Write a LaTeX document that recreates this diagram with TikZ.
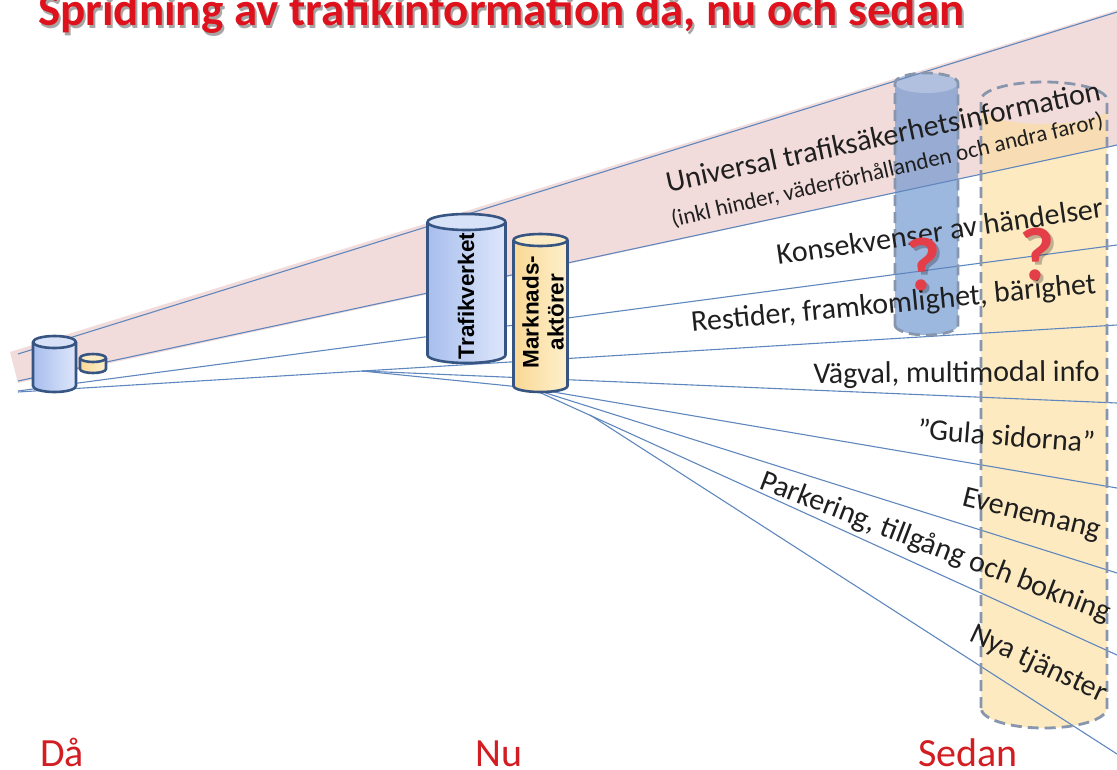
\documentclass[tikz,border=0pt]{standalone}
\usepackage{fontspec}
\setmainfont{Carlito}
\newfontfamily\arialfont{Liberation Sans}
\definecolor{pinkband}{RGB}{242,220,219}
\definecolor{fanline}{RGB}{95,135,190}
\definecolor{cylout}{RGB}{55,85,130}
\definecolor{bluecylL}{RGB}{168,190,238}
\definecolor{bluecylR}{RGB}{222,230,250}
\definecolor{bluetop}{RGB}{215,225,248}
\definecolor{yelL}{RGB}{250,216,148}
\definecolor{yelR}{RGB}{253,240,205}
\definecolor{yeltop}{RGB}{253,236,195}
\definecolor{dashgrey}{RGB}{135,150,172}
\definecolor{ghostblue}{RGB}{110,150,208}
\definecolor{ghostyel}{RGB}{252,221,155}
\definecolor{titlered}{RGB}{222,18,28}
\definecolor{labelred}{RGB}{210,30,35}
\definecolor{qred}{RGB}{228,62,72}
\newcommand\solidcyl[8]{%
  \path[left color=#6, right color=#7] ({#1-#2},#3) -- ({#1-#2},#4) arc[start angle=180,end angle=0,x radius=#2,y radius=#5] -- ({#1+#2},#3) -- cycle;
  \draw[cylline] ({#1-#2},#3) -- ({#1-#2},#4) arc[start angle=180,end angle=0,x radius=#2,y radius=#5] -- ({#1+#2},#3);
  \draw[cylline, fill=#8] (#1,#3) ellipse[x radius=#2, y radius=#5];
}
\begin{document}
\begin{tikzpicture}[x=1pt,y=-1pt,
  fan/.style={draw=fanline, line width=1.1pt},
  cylline/.style={draw=cylout, line width=2.6pt, line join=round},
  ghost/.style={draw=dashgrey, line width=2.8pt, dash pattern=on 11pt off 6pt},
  lbl/.style={inner sep=0pt, font=\fontsize{30}{36}\selectfont, text=black!88},
  cyltext/.style={inner sep=0pt, rotate=90, align=center, font=\arialfont\bfseries\fontsize{22.5}{25}\selectfont},
  timelbl/.style={inner sep=0pt, anchor=base west, text=labelred, font=\fontsize{40}{44}\selectfont},
  qmark/.style={inner sep=0pt, anchor=base, text=qred, font=\bfseries\fontsize{76}{76}\selectfont},
  titlefont/.style={inner sep=0pt, anchor=base west, font=\bfseries\fontsize{47}{50}\selectfont}]
\useasboundingbox (0,0) rectangle (1117,769);
\clip (0,0) rectangle (1117,769);

% pink band
\fill[pinkband] (10,352) -- (1117,10) -- (1117,145) -- (18,383) -- cycle;

% translucent future cylinders (fills)
\fill[ghostblue, fill opacity=0.68] (895,325) -- (895,83) arc[start angle=180,end angle=360,x radius=31.5,y radius=10] -- (958,325) arc[start angle=0,end angle=180,x radius=31.5,y radius=10] -- cycle;
\fill[white, fill opacity=0.25] (926.5,83) ellipse[x radius=31.5, y radius=10];
\fill[ghostyel, fill opacity=0.62] (981,708) -- (981,108) arc[start angle=180,end angle=0,x radius=63,y radius=16] -- (1107,708) arc[start angle=0,end angle=180,x radius=63,y radius=20] -- cycle;

% fan coordinates
\coordinate (L1) at (18,354);  \coordinate (R1) at (1117,12);
\coordinate (L2) at (18,381);  \coordinate (R2) at (1117,145);
\coordinate (LA) at (18,391);  \coordinate (RA) at (1117,245);
\coordinate (LB) at (18,392);  \coordinate (RB) at (1117,325);
\coordinate (P) at (362,371);  \coordinate (K) at (530,388);
\coordinate (RC) at (1117,403); \coordinate (RD) at (1117,488);
\coordinate (RE) at (1117,573); \coordinate (RF) at (1117,655);
\coordinate (G0) at (590,415); \coordinate (RG) at (1117,754);

\draw[fan] (L1) -- (R1);
\draw[fan] (L2) -- (R2);
\draw[fan] (LA) -- (RA);
\draw[fan] (LB) -- (RB);
\draw[fan] (P) -- (RC);
\draw[fan] (P) -- (K);
\draw[fan] (K) -- (RD);
\draw[fan] (K) -- (RE);
\draw[fan] (K) -- (RF);
\draw[fan] (G0) -- (RG);

% solid cylinders
\solidcyl{54.5}{21.5}{342}{386}{6}{bluecylL}{bluecylR}{bluetop}
\solidcyl{93}{13}{358}{369}{4}{yelL}{yelR}{yeltop}
\solidcyl{466.5}{39}{222}{355}{8}{bluecylL}{bluecylR}{bluetop}
\solidcyl{540.5}{27}{240}{386}{6}{yelL}{yelR}{yeltop}
\node[cyltext] (trv) at (466,296) {Trafikverket};
\node[cyltext] (mkt) at (543,312) {Marknads-\\aktörer};

% dashed outlines of future cylinders
\draw[ghost] (895,325) -- (895,83) arc[start angle=180,end angle=360,x radius=31.5,y radius=10] -- (958,325) arc[start angle=0,end angle=180,x radius=31.5,y radius=10] -- cycle;
\draw[ghost] (981,708) -- (981,100) arc[start angle=180,end angle=360,x radius=63,y radius=18] -- (1107,708) arc[start angle=0,end angle=180,x radius=63,y radius=20] -- cycle;

% labels along the fan
\node[lbl, anchor=base east, rotate=12] (t1) at (1102,100) {Universal trafiksäkerhetsinformation};
\node[lbl, anchor=base west, rotate=13, font=\fontsize{23}{26}\selectfont] (t2) at (673,227) {(inkl hinder, väderförhållanden och andra faror)};
\node[lbl, anchor=base west, rotate=8.3] (t3) at (778,265) {Konsekvenser av händelser};
\node[lbl, anchor=base west, rotate=5.5] (t4) at (692,332) {Restider, framkomlighet, bärighet};
\node[lbl, anchor=base east, rotate=0.5] (t5) at (1100,381) {Vägval, multimodal info};
\node[lbl, anchor=base west, rotate=-4.5] (t6) at (917,439) {”Gula sidorna”};
\node[lbl, anchor=base west, rotate=-14] (t7) at (961,505) {Evenemang};
\node[lbl, anchor=base west, rotate=-21] (t8) at (758,488) {Parkering, tillgång och bokning};
\node[lbl, anchor=base west, rotate=-25] (t9) at (968,640) {Nya tjänster};

% question marks
\node[qmark, text=black, opacity=0.25] at (926,293) {?};
\node[qmark] (q1) at (923,290) {?};
\node[qmark, text=black, opacity=0.25] at (1040,283) {?};
\node[qmark] (q2) at (1037,280) {?};

% title
\node[titlefont, text=black, opacity=0.35] at (40,28) {Spridning av trafikinformation då, nu och sedan};
\node[titlefont, text=titlered] (title) at (38,25) {Spridning av trafikinformation då, nu och sedan};

% time labels
\node[timelbl] (da) at (40,766) {Då};
\node[timelbl] (nu) at (475,766) {Nu};
\node[timelbl] (sedan) at (918,766) {Sedan};
\end{tikzpicture}
\end{document}
